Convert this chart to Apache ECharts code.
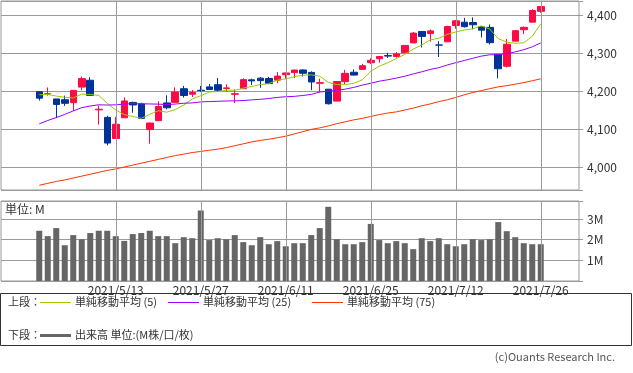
<!DOCTYPE html>
<html>
<head>
<meta charset="utf-8">
<script src="https://cdn.jsdelivr.net/npm/echarts@6/dist/echarts.min.js"></script>
<style>
html,body{margin:0;padding:0;background:#fff;}
#c{width:633px;height:373px;}
</style>
</head>
<body>
<div id="c"></div>
<script>
// ---- data ----
const dates = ['2021/4/30','2021/5/3','2021/5/4','2021/5/5','2021/5/6','2021/5/7','2021/5/10','2021/5/11','2021/5/12','2021/5/13',
'2021/5/14','2021/5/17','2021/5/18','2021/5/19','2021/5/20','2021/5/21','2021/5/24','2021/5/25','2021/5/26','2021/5/27',
'2021/5/28','2021/6/1','2021/6/2','2021/6/3','2021/6/4','2021/6/7','2021/6/8','2021/6/9','2021/6/10','2021/6/11',
'2021/6/14','2021/6/15','2021/6/16','2021/6/17','2021/6/18','2021/6/21','2021/6/22','2021/6/23','2021/6/24','2021/6/25',
'2021/6/28','2021/6/29','2021/6/30','2021/7/1','2021/7/2','2021/7/6','2021/7/7','2021/7/8','2021/7/9','2021/7/12',
'2021/7/13','2021/7/14','2021/7/15','2021/7/16','2021/7/19','2021/7/20','2021/7/21','2021/7/22','2021/7/23','2021/7/26'];

const opens = [4198.10,4191.98,4179.04,4177.06,4169.14,4210.34,4228.29,4150.34,4130.55,4074.99,
4129.58,4169.92,4165.94,4098.45,4121.97,4168.61,4170.16,4205.94,4191.59,4201.94,
4210.77,4216.52,4206.82,4191.43,4206.05,4229.34,4233.81,4232.99,4228.56,4242.90,
4248.31,4255.28,4248.87,4220.37,4204.78,4173.40,4224.61,4249.27,4256.97,4274.45,
4284.90,4293.21,4290.65,4300.73,4326.60,4356.46,4351.01,4321.07,4329.38,4372.41,
4381.07,4380.11,4369.02,4367.43,4296.40,4265.11,4331.13,4361.27,4381.20,4409.58];

const highs = [4198.10,4209.39,4179.04,4187.72,4202.70,4238.04,4236.39,4162.04,4134.73,4131.58,
4183.13,4171.92,4169.15,4116.93,4172.80,4188.72,4209.52,4213.42,4202.61,4213.38,
4218.36,4234.12,4217.37,4204.39,4233.45,4232.34,4236.74,4237.09,4249.74,4248.38,
4255.59,4257.16,4251.89,4232.29,4204.78,4226.24,4255.84,4256.60,4271.28,4286.12,
4292.14,4300.52,4302.43,4320.66,4355.43,4356.46,4361.88,4330.88,4371.60,4386.68,
4392.37,4393.68,4369.02,4375.09,4296.40,4336.84,4359.70,4369.87,4415.18,4422.73];

const lows = [4174.85,4188.03,4128.59,4160.94,4147.33,4201.64,4188.13,4111.53,4056.88,4074.99,
4129.58,4142.69,4125.99,4061.41,4121.97,4151.72,4170.16,4182.52,4184.11,4197.78,
4203.57,4197.59,4198.27,4167.93,4206.05,4215.66,4208.41,4218.74,4220.34,4232.25,
4234.07,4238.35,4202.45,4196.05,4164.40,4173.40,4217.27,4241.43,4256.97,4271.16,
4274.67,4287.04,4287.96,4300.73,4326.60,4314.37,4329.79,4289.37,4329.38,4364.03,
4366.92,4362.36,4340.70,4322.53,4233.13,4262.05,4331.13,4350.06,4381.20,4405.45];

const closes = [4181.17,4192.66,4164.66,4167.59,4201.62,4232.60,4188.43,4152.10,4063.04,4112.50,
4173.85,4163.29,4127.83,4115.68,4159.12,4155.86,4197.05,4188.13,4195.99,4200.88,
4204.11,4202.04,4208.12,4192.85,4229.89,4226.52,4227.26,4219.55,4239.18,4247.44,
4255.15,4246.59,4223.70,4221.86,4166.45,4224.79,4246.44,4241.84,4266.49,4280.70,
4290.61,4291.80,4297.50,4319.94,4352.34,4343.54,4358.13,4320.82,4369.55,4384.63,
4369.21,4374.30,4360.03,4327.16,4258.49,4323.06,4358.69,4367.48,4411.79,4422.30];

const ma5 = [4190.03,4191.04,4186.63,4183.51,4181.54,4191.83,4190.98,4188.47,4167.56,4149.73,
4137.98,4132.96,4128.10,4138.63,4147.95,4144.36,4151.11,4163.17,4179.23,4187.58,
4197.23,4198.23,4202.23,4201.60,4207.40,4211.88,4216.93,4219.21,4228.48,4231.99,
4237.72,4241.58,4242.41,4238.95,4222.75,4216.68,4216.65,4220.28,4229.20,4252.05,
4265.22,4274.29,4285.42,4296.11,4310.44,4321.02,4334.29,4338.95,4348.88,4355.33,
4360.47,4363.70,4371.54,4363.07,4337.84,4328.61,4325.49,4326.98,4343.90,4376.66];

const ma25 = [4113.67,4122.39,4130.13,4138.49,4147.64,4156.15,4160.57,4163.70,4163.02,4163.63,
4165.43,4166.84,4166.29,4165.93,4165.48,4164.30,4165.65,4167.78,4168.68,4171.32,
4172.28,4172.86,4173.72,4174.11,4174.85,4176.66,4178.04,4180.24,4183.10,4184.93,
4185.83,4188.16,4191.02,4197.37,4199.53,4201.57,4204.90,4209.46,4215.49,4220.35,
4225.74,4229.53,4233.90,4238.86,4244.92,4250.50,4256.74,4261.25,4268.32,4274.51,
4280.22,4286.10,4291.72,4295.24,4295.68,4298.40,4302.88,4308.63,4316.23,4326.46];

const ma75 = [3952,3957,3962,3966,3971,3976,3981,3986,3991,3995,
4000,4005,4010,4015,4020,4025,4030,4034,4038,4041,
4044,4047,4051,4056,4061,4066,4070,4073,4077,4081,
4087,4093,4099,4103,4108,4114,4119,4124,4128,4133,
4138,4142,4145,4150,4155,4161,4166,4172,4177,4183,
4190,4196,4201,4206,4211,4214,4218,4222,4227,4232];

const volumes = [2.43,2.17,2.56,1.73,2.22,2.02,2.32,2.43,2.43,2.17,
1.94,2.27,2.32,2.43,2.17,2.17,1.83,2.12,2.07,3.41,
1.98,2.07,2.02,2.22,1.88,1.73,2.12,1.78,1.93,1.68,
1.83,1.83,2.22,2.56,3.59,2.02,1.78,1.78,1.88,2.76,
1.98,1.83,1.93,1.83,1.54,2.07,1.93,2.07,1.78,1.68,
1.78,2.02,1.98,2.02,2.85,2.41,2.12,1.83,1.78,1.78];

const xLabels = ['2021/5/13','2021/5/27','2021/6/11','2021/6/25','2021/7/12','2021/7/26'];
const priceTicks = [4000,4100,4200,4300,4400];
const volumeTicks = [1,2,3];

// ---- build ----
const PAD = 4;
const preCats = Array.from({length: PAD}, (_, i) => 'pre' + i);
const postCats = Array.from({length: PAD}, (_, i) => 'post' + i);
const cats = preCats.concat(dates, postCats);

const FONT = "'Noto Sans CJK JP', 'Liberation Sans', sans-serif";
const RED = '#ff0a45', BLUE = '#003399';
const GRID = '#9a9a9a';

const candleData = dates.map((d, i) => [i + PAD, opens[i], closes[i], lows[i], highs[i]]);
const toPairs = arr => arr.map((v, i) => [i + PAD, v]);

const vLines = xLabels.map(d => ({xAxis: d}));
const markLineCfg = {
  silent: true, symbol: ['none', 'none'], animation: false,
  label: {show: false},
  lineStyle: {color: GRID, width: 1, type: 'solid'},
  emphasis: {disabled: true},
  data: vLines
};

function fmtThousands(v) {
  const s = String(Math.round(v));
  return s.replace(/\B(?=(\d{3})+(?!\d))/g, ',');
}

const chart = echarts.init(document.getElementById('c'), null, {renderer: 'canvas'});
chart.setOption({
  animation: false,
  backgroundColor: '#fff',
  grid: [
    {left: 1, top: 1, width: 578, height: 189, show: true, borderColor: GRID, borderWidth: 1, backgroundColor: 'transparent'},
    {left: 1, top: 201, width: 578, height: 80, show: true, borderColor: GRID, borderWidth: 1, backgroundColor: 'transparent'}
  ],
  xAxis: [
    {type: 'category', gridIndex: 0, data: cats, boundaryGap: true,
     axisLine: {show: false}, axisTick: {show: false}, axisLabel: {show: false}, splitLine: {show: false}},
    {type: 'category', gridIndex: 1, data: cats, boundaryGap: true,
     axisLine: {show: false}, axisTick: {show: false}, splitLine: {show: false},
     axisLabel: {show: true, interval: (idx, val) => xLabels.indexOf(val) >= 0, margin: 3,
       fontFamily: FONT, fontSize: 12, color: '#333', hideOverlap: false}}
  ],
  yAxis: [
    {type: 'value', gridIndex: 0, position: 'right', min: 3939.5, max: 4436.8, splitNumber: 5, scale: true,
     axisLine: {show: false},
     axisTick: {show: true, length: 4, lineStyle: {color: GRID}},
     splitLine: {show: true, lineStyle: {color: GRID, width: 1}},
     axisLabel: {margin: 8, fontFamily: FONT, fontSize: 12, color: '#333',
       formatter: v => priceTicks.indexOf(Math.round(v)) >= 0 && Math.abs(v - Math.round(v)) < 1e-6 ? fmtThousands(v) : ''}},
    {type: 'value', gridIndex: 1, position: 'right', min: 0, max: 3.87, interval: 1,
     axisLine: {show: false},
     axisTick: {show: true, length: 4, lineStyle: {color: GRID}},
     splitLine: {show: true, lineStyle: {color: GRID, width: 1}},
     axisLabel: {margin: 8, fontFamily: FONT, fontSize: 12, color: '#333',
       formatter: v => volumeTicks.indexOf(v) >= 0 ? v + 'M' : ''}}
  ],
  series: [
    {type: 'line', xAxisIndex: 0, yAxisIndex: 0, data: [], z: 1, markLine: markLineCfg, silent: true},
    {type: 'line', xAxisIndex: 1, yAxisIndex: 1, data: [], z: 1, markLine: markLineCfg, silent: true},
    {type: 'candlestick', name: 'price', xAxisIndex: 0, yAxisIndex: 0, z: 3,
     barWidth: 7, encode: {x: 0, y: [1, 2, 3, 4]},
     itemStyle: {color: RED, color0: BLUE, borderColor: RED, borderColor0: BLUE, borderColorDoji: RED, borderWidth: 1},
     data: candleData},
    {type: 'line', name: '単純移動平均 (5)', xAxisIndex: 0, yAxisIndex: 0, z: 4, showSymbol: false, silent: true,
     lineStyle: {color: '#99cc00', width: 1}, itemStyle: {color: '#99cc00'}, data: toPairs(ma5)},
    {type: 'line', name: '単純移動平均 (25)', xAxisIndex: 0, yAxisIndex: 0, z: 4, showSymbol: false, silent: true,
     lineStyle: {color: '#9900ff', width: 1}, itemStyle: {color: '#9900ff'}, data: toPairs(ma25)},
    {type: 'line', name: '単純移動平均 (75)', xAxisIndex: 0, yAxisIndex: 0, z: 4, showSymbol: false, silent: true,
     lineStyle: {color: '#ff3300', width: 1}, itemStyle: {color: '#ff3300'}, data: toPairs(ma75)},
    {type: 'bar', name: '出来高', xAxisIndex: 1, yAxisIndex: 1, z: 3, barWidth: 6, silent: true,
     itemStyle: {color: '#666666'}, data: toPairs(volumes)}
  ],
  graphic: [
    {type: 'text', left: 5, top: 203, style: {text: '単位: M', font: "12px " + FONT, fill: '#333'}},
    {type: 'rect', shape: {x: 0.5, y: 293.5, width: 631, height: 52}, style: {fill: 'none', stroke: '#333', lineWidth: 1}},
    {type: 'text', x: 8, y: 302, style: {text: '上段：', font: "11px " + FONT, fill: '#333', textVerticalAlign: 'middle'}},
    {type: 'line', shape: {x1: 40, y1: 302.5, x2: 71, y2: 302.5}, style: {stroke: '#99cc00', lineWidth: 1}},
    {type: 'text', x: 75, y: 302, style: {text: '単純移動平均 (5)', font: "11px " + FONT, fill: '#333', textVerticalAlign: 'middle'}},
    {type: 'line', shape: {x1: 168, y1: 302.5, x2: 199, y2: 302.5}, style: {stroke: '#9900ff', lineWidth: 1}},
    {type: 'text', x: 203, y: 302, style: {text: '単純移動平均 (25)', font: "11px " + FONT, fill: '#333', textVerticalAlign: 'middle'}},
    {type: 'line', shape: {x1: 312, y1: 302.5, x2: 343, y2: 302.5}, style: {stroke: '#ff3300', lineWidth: 1}},
    {type: 'text', x: 347, y: 302, style: {text: '単純移動平均 (75)', font: "11px " + FONT, fill: '#333', textVerticalAlign: 'middle'}},
    {type: 'text', x: 8, y: 335, style: {text: '下段：', font: "11px " + FONT, fill: '#333', textVerticalAlign: 'middle'}},
    {type: 'line', shape: {x1: 40, y1: 335.5, x2: 71, y2: 335.5}, style: {stroke: '#666666', lineWidth: 3}},
    {type: 'text', x: 75, y: 335, style: {text: '出来高 単位:(M株/口/枚)', font: "11px " + FONT, fill: '#333', textVerticalAlign: 'middle'}},
    {type: 'text', x: 615, y: 357, style: {text: '(c)Ouants Research Inc.', font: "11px " + FONT, fill: '#555', textAlign: 'right', textVerticalAlign: 'middle'}}
  ]
});
</script>
</body>
</html>
